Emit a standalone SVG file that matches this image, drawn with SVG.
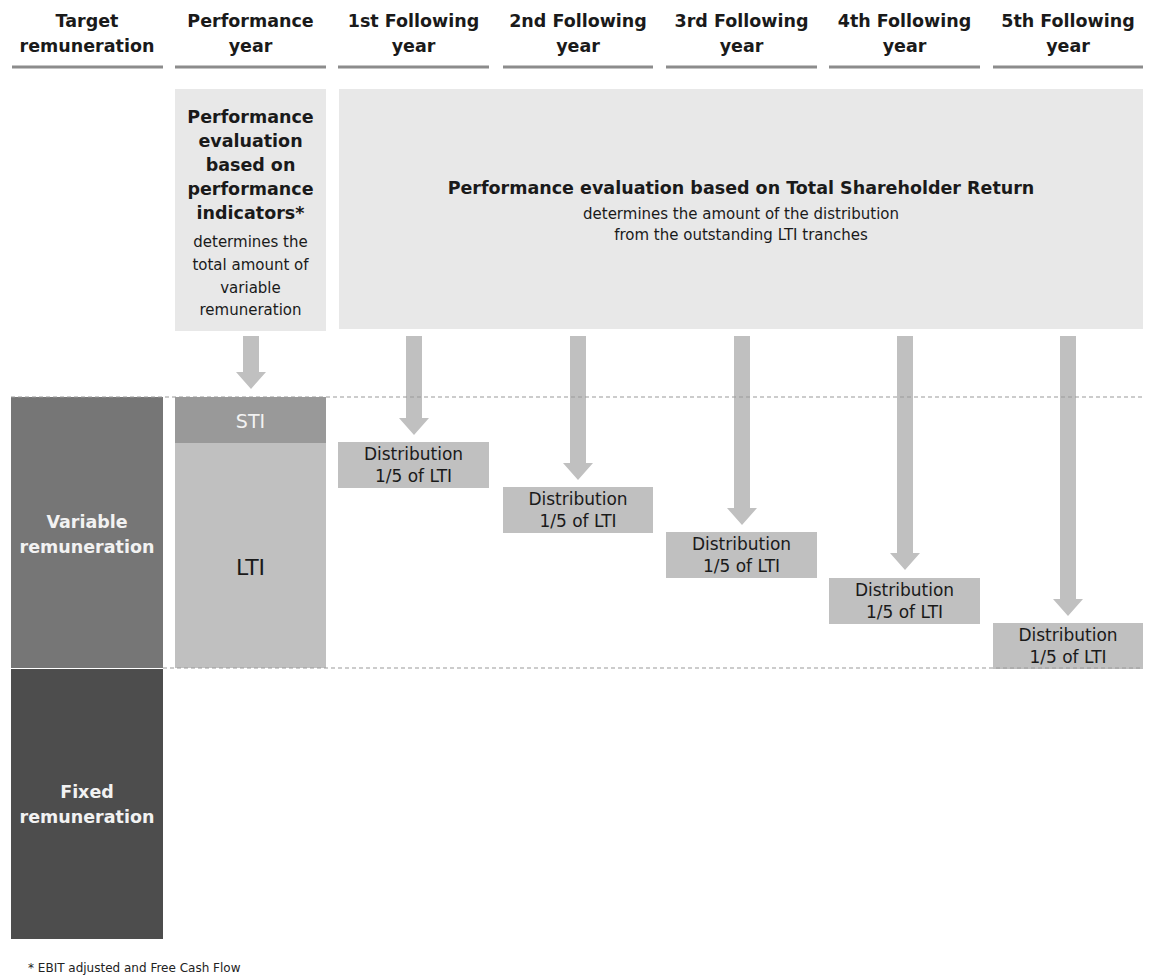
<svg xmlns="http://www.w3.org/2000/svg" width="1153" height="977" viewBox="0 0 1153 977">
<style>
text{font-family:"DejaVu Sans","Liberation Sans",sans-serif;text-anchor:middle;fill:#1a1a1a}
.h{font-size:17.5px;font-weight:bold}
.b{font-size:17.5px;font-weight:bold}
.r{font-size:15px}
.w{fill:#f2f2f2}
.d{font-size:17px}
.hl{stroke:#8c8c8c;stroke-width:3}
.dash{stroke:#9a9a9a;stroke-width:1.2;stroke-dasharray:4 3;fill:none}
.arr{fill:#c0c0c0}
.dist{fill:#c0c0c0}
</style>
<rect width="1153" height="977" fill="#ffffff"/>
<g id="headers">
<g id="h1"><text class="h" x="87" y="27">Target</text><text class="h" x="87" y="52">remuneration</text><line class="hl" x1="12" y1="67" x2="163" y2="67"/></g>
<g id="h2"><text class="h" x="250.5" y="27">Performance</text><text class="h" x="250.5" y="52">year</text><line class="hl" x1="175" y1="67" x2="326" y2="67"/></g>
<g id="h3"><text class="h" x="413.5" y="27">1st Following</text><text class="h" x="413.5" y="52">year</text><line class="hl" x1="338" y1="67" x2="489" y2="67"/></g>
<g id="h4"><text class="h" x="578" y="27">2nd Following</text><text class="h" x="578" y="52">year</text><line class="hl" x1="503" y1="67" x2="653" y2="67"/></g>
<g id="h5"><text class="h" x="741.5" y="27">3rd Following</text><text class="h" x="741.5" y="52">year</text><line class="hl" x1="666" y1="67" x2="817" y2="67"/></g>
<g id="h6"><text class="h" x="904.5" y="27">4th Following</text><text class="h" x="904.5" y="52">year</text><line class="hl" x1="829" y1="67" x2="980" y2="67"/></g>
<g id="h7"><text class="h" x="1068" y="27">5th Following</text><text class="h" x="1068" y="52">year</text><line class="hl" x1="993" y1="67" x2="1143" y2="67"/></g>
</g>
<g id="eval-kpi">
<rect x="175" y="89" width="151" height="242" fill="#e8e8e8"/>
<text class="b" x="250.5" y="123">Performance</text>
<text class="b" x="250.5" y="147">evaluation</text>
<text class="b" x="250.5" y="171">based on</text>
<text class="b" x="250.5" y="195">performance</text>
<text class="b" x="250.5" y="219">indicators*</text>
<text class="r" x="250.5" y="247">determines the</text>
<text class="r" x="250.5" y="270">total amount of</text>
<text class="r" x="250.5" y="293">variable</text>
<text class="r" x="250.5" y="315">remuneration</text>
</g>
<g id="eval-tsr">
<rect x="339" y="89" width="804" height="240" fill="#e8e8e8"/>
<text class="b" x="741" y="194">Performance evaluation based on Total Shareholder Return</text>
<text class="r" x="741" y="219">determines the amount of the distribution</text>
<text class="r" x="741" y="240">from the outstanding LTI tranches</text>
</g>
<g id="variable">
<rect x="11" y="397" width="152" height="271" fill="#767676"/>
<text class="b w" x="87" y="528">Variable</text>
<text class="b w" x="87" y="553">remuneration</text>
</g>
<g id="fixed">
<rect x="11" y="669" width="152" height="270" fill="#4d4d4d"/>
<text class="b w" x="87" y="798">Fixed</text>
<text class="b w" x="87" y="823">remuneration</text>
</g>
<g id="sti">
<rect x="175" y="397" width="151" height="46" fill="#999999"/>
<text class="w" x="250.5" y="428" style="font-size:19px">STI</text>
</g>
<g id="lti">
<rect x="175" y="443" width="151" height="225" fill="#c0c0c0"/>
<text x="250.5" y="575" style="font-size:22px">LTI</text>
</g>
<g id="dist1"><rect class="dist" x="338" y="442" width="151" height="46"/><text class="d" x="413.5" y="460">Distribution</text><text class="d" x="413.5" y="482">1/5 of LTI</text></g>
<g id="dist2"><rect class="dist" x="503" y="487" width="150" height="46"/><text class="d" x="578" y="505">Distribution</text><text class="d" x="578" y="527">1/5 of LTI</text></g>
<g id="dist3"><rect class="dist" x="666" y="532" width="151" height="46"/><text class="d" x="741.5" y="550">Distribution</text><text class="d" x="741.5" y="572">1/5 of LTI</text></g>
<g id="dist4"><rect class="dist" x="829" y="578" width="151" height="46"/><text class="d" x="904.5" y="596">Distribution</text><text class="d" x="904.5" y="618">1/5 of LTI</text></g>
<g id="dist5"><rect class="dist" x="993" y="623" width="150" height="46"/><text class="d" x="1068" y="641">Distribution</text><text class="d" x="1068" y="663">1/5 of LTI</text></g>
<g id="connectors">
<path class="arr" d="M243 336H259V372H266L251 389L236 372H243Z"/>
<path class="arr" d="M406 336H422V418H429L414 435L399 418H406Z"/>
<path class="arr" d="M570 336H586V463H593L578 480L563 463H570Z"/>
<path class="arr" d="M734 336H750V508H757L742 525L727 508H734Z"/>
<path class="arr" d="M897 336H913V553H920L905 570L890 553H897Z"/>
<path class="arr" d="M1060 336H1076V599H1083L1068 616L1053 599H1060Z"/>
</g>
<g id="guides">
<line class="dash" x1="11" y1="397" x2="1143" y2="397"/>
<line class="dash" x1="163" y1="668" x2="1143" y2="668"/>
</g>
<g id="footnote">
<text x="28" y="972" style="font-size:12px;text-anchor:start;fill:#222">* EBIT adjusted and Free Cash Flow</text>
</g>
</svg>
